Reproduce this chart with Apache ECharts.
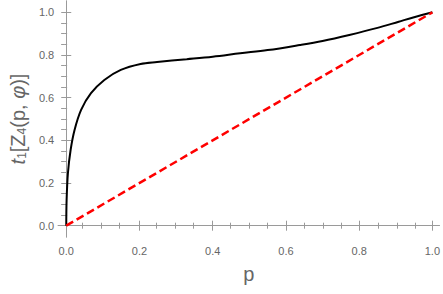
<!DOCTYPE html>
<html>
<head>
<meta charset="utf-8">
<script src="https://cdn.jsdelivr.net/npm/echarts@6/dist/echarts.min.js"></script>
<style>
  html, body { margin: 0; padding: 0; background: #fff; }
  #chart { width: 443px; height: 294px; }
</style>
</head>
<body>
<div id="chart"></div>
<script>
// black curve t1[Z4(p, phi)]
var pValues = [0, 0.001, 0.0046, 0.012, 0.0227, 0.0406, 0.0676, 0.104, 0.149, 0.203, 0.248, 0.329, 0.40, 0.475, 0.55, 0.638, 0.70, 0.773, 0.85, 0.908, 0.95, 1.0];
var t1Values = [0, 0.12, 0.247, 0.356, 0.449, 0.543, 0.621, 0.683, 0.730, 0.758, 0.767, 0.780, 0.792, 0.808, 0.823, 0.847, 0.866, 0.894, 0.927, 0.956, 0.977, 1.0];
// red dashed reference line
var diagP = [0, 1];
var diagT = [0, 1];
// ticks
var majorTicks = [0, 0.2, 0.4, 0.6, 0.8, 1.0];
var minorTicks = [0.05, 0.1, 0.15, 0.25, 0.3, 0.35, 0.45, 0.5, 0.55, 0.65, 0.7, 0.75, 0.85, 0.9, 0.95];

var frame = '#9a9a9a';
var labelColor = '#666';
var font = '"Liberation Sans", Arial, sans-serif';

function zip(a, b) { return a.map(function (v, i) { return [v, b[i]]; }); }

// one axis of the frame; grid 0 carries major ticks + frame lines, grid 1 the minor ticks
function axis(kind, pos, gridIndex, ticks, len, showLabel, extra) {
  var o = {
    type: 'value',
    gridIndex: gridIndex,
    position: pos,
    min: kind === 'x' ? -0.022 : -0.053,
    max: kind === 'x' ? 1.019 : 1.053,
    axisLine: { show: gridIndex === 0, lineStyle: { color: frame, width: 1 } },
    axisTick: { show: true, inside: true, length: len, customValues: ticks, lineStyle: { color: frame, width: 1 } },
    axisLabel: { show: showLabel, customValues: ticks, color: labelColor, fontSize: 11, fontFamily: font,
      margin: kind === 'x' ? 8 : 4, formatter: function (v) { return v.toFixed(1); } },
    splitLine: { show: false }
  };
  for (var k in extra) o[k] = extra[k];
  return o;
}

var gridRect = { left: 56, right: 2, top: 1, bottom: 57, containLabel: false };

var chart = echarts.init(document.getElementById('chart'), null, { renderer: 'svg' });
chart.setOption({
  animation: false,
  grid: [gridRect, gridRect],
  xAxis: [
    axis('x', 'bottom', 0, majorTicks, 5, true, {
      name: 'p', nameLocation: 'middle', nameGap: 27,
      nameTextStyle: { color: labelColor, fontSize: 20, fontFamily: font }
    }),
    axis('x', 'top', 0, majorTicks, 5, false, {}),
    axis('x', 'bottom', 1, minorTicks, 3, false, {}),
    axis('x', 'top', 1, minorTicks, 3, false, {})
  ],
  yAxis: [
    axis('y', 'left', 0, majorTicks, 5, true, {
      name: '{it|t}{sub|1}[Z{sub|4}(p, {it|φ})]', nameLocation: 'middle', nameRotate: 90, nameGap: 28,
      nameTextStyle: {
        color: labelColor, fontSize: 20, fontFamily: font,
        rich: {
          it: { fontStyle: 'italic', fontSize: 20, color: labelColor, fontFamily: font },
          sub: { fontSize: 12, color: labelColor, fontFamily: font, verticalAlign: 'bottom', padding: [8, 0, 0, 0] }
        }
      }
    }),
    axis('y', 'right', 0, majorTicks, 5, false, {}),
    axis('y', 'left', 1, minorTicks, 3, false, {}),
    axis('y', 'right', 1, minorTicks, 3, false, {})
  ],
  series: [
    {
      type: 'line',
      xAxisIndex: 0,
      yAxisIndex: 0,
      data: zip(pValues, t1Values),
      smooth: 0.35,
      showSymbol: false,
      lineStyle: { color: '#000', width: 2 },
      z: 3
    },
    {
      type: 'line',
      xAxisIndex: 0,
      yAxisIndex: 0,
      data: zip(diagP, diagT),
      showSymbol: false,
      lineStyle: { color: '#ff0000', width: 2.5, type: [8, 4] },
      z: 4
    }
  ]
});
</script>
</body>
</html>
